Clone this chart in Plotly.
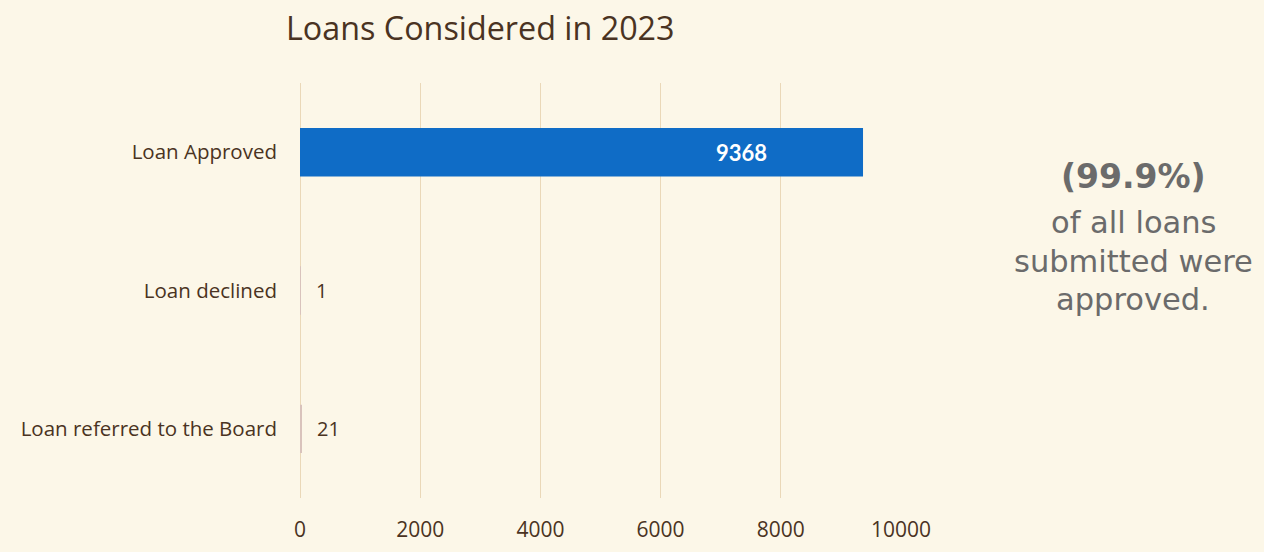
import plotly.graph_objects as go

categories = ["Loan Approved", "Loan declined", "Loan referred to the Board"]
values = [9368, 1, 21]
x_ticks = [0, 2000, 4000, 6000, 8000, 10000]
title_text = "Loans Considered in 2023"
side_lines = ["(99.9%)", "of all loans", "submitted were", "approved."]

BG = "#FCF7E8"
BROWN = "#4A3322"
BLUE = "#0F6CC6"
THIN = "#D9C3BC"
GRID = "#EAD8B8"
GRAY = "#6B6B6B"
FONT = "Open Sans"

cat_order = categories[::-1]
bar_colors = [BLUE if v > 1000 else THIN for v in values]

fig = go.Figure()
fig.add_trace(go.Bar(
    x=values, y=categories, orientation="h",
    marker=dict(color=bar_colors, line=dict(width=0)),
    width=0.35,
    cliponaxis=False,
    hoverinfo="skip",
))

# value labels
for c, v in zip(categories, values):
    if v > 1000:
        fig.add_annotation(x=v, y=c, xref="x", yref="y", text=f"<b>{v}</b>",
                           showarrow=False, xanchor="right", xshift=-94,
                           font=dict(family="Lato", size=22, color="white"))
    else:
        fig.add_annotation(x=v, y=c, xref="x", yref="y", text=str(v),
                           showarrow=False, xanchor="left", xshift=14,
                           font=dict(family=FONT, size=20, color=BROWN))

fig.update_layout(
    width=1264, height=552,
    paper_bgcolor=BG, plot_bgcolor=BG,
    margin=dict(l=300, r=363, t=83, b=54, autoexpand=False),
    showlegend=False,
    title=dict(text=title_text, xref="container", yref="container",
               x=286/1264, xanchor="left", y=1-29/552, yanchor="middle",
               font=dict(family=FONT, size=32.3, color=BROWN)),
    bargap=0.65,
)
fig.update_xaxes(range=[0, 10000], tickvals=x_ticks, ticktext=[str(t) for t in x_ticks],
                 showgrid=True, gridcolor=GRID, gridwidth=1,
                 zeroline=True, zerolinecolor=GRID, zerolinewidth=1,
                 showline=False, ticks="", ticklabelstandoff=17, automargin=False,
                 tickfont=dict(family=FONT, size=21, color=BROWN))
fig.update_yaxes(categoryorder="array", categoryarray=cat_order,
                 showgrid=False, showline=False, ticks="", ticklabelstandoff=22, automargin=False,
                 tickfont=dict(family=FONT, size=20.5, color=BROWN))

# side note
ys = [176, 222, 261, 299]
for i, (line, yy) in enumerate(zip(side_lines, ys)):
    fig.add_annotation(xref="paper", yref="paper",
                       x=(1133-300)/601, y=(552-54-yy)/(552-83-54),
                       text=f"<b>{line}</b>" if i == 0 else line,
                       showarrow=False, xanchor="center", yanchor="middle",
                       font=dict(family="DejaVu Sans", size=33 if i == 0 else 30.5, color=GRAY))

fig.write_html("out.html")
